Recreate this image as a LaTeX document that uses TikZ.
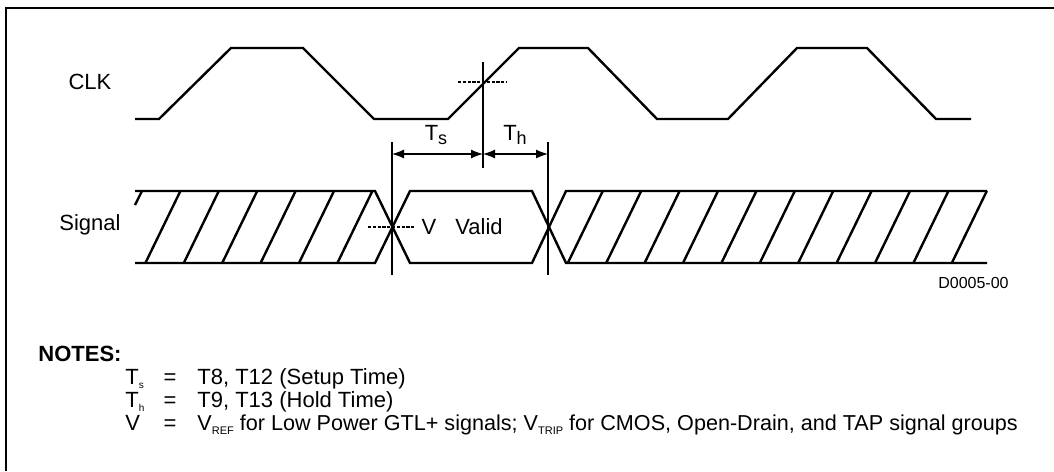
\documentclass[tikz,border=0pt]{standalone}
\usepackage{fontspec}
\setmainfont{Liberation Sans}
\usetikzlibrary{arrows.meta}
\newcommand{\lowtext}[2][5]{\raisebox{-0.4ex}{\fontsize{#1}{#1}\selectfont #2}}

\begin{document}
\begin{tikzpicture}[x=0.5pt,y=-0.5pt,>={Latex[length=6pt,width=4.5pt]},
	wave/.style={line width=1.2pt,line join=miter},
	guide/.style={line width=0.9pt},
	vdash/.style={line width=0.7pt,dash pattern=on 1.6pt off 0.8pt},
	dim/.style={<->,line width=0.6pt},
	label/.style={inner sep=0pt}]
	\tikzstyle{every node}=[font=\fontsize{11}{13}\selectfont]
	\useasboundingbox (0,0) rectangle (1054,471);
	\draw[line width=1.1pt] (6,471) -- (6,8) -- (1054,8);

	% clock
	\draw[wave] (135,119) -- (159,119) -- (231,48) -- (303,48) -- (374,119) -- (448,119)
		-- (519,48) -- (588,48) -- (657,119) -- (728,119) -- (797,48) -- (867,48)
		-- (936,119) -- (971,119);
	\node[label] (clk) at (90,82) {CLK};

	% signal
	\draw[wave] (135,191) -- (375,191) -- (410,263) -- (532,263) -- (566,191) -- (987,191);
	\draw[wave] (135,263) -- (375,263) -- (410,191) -- (532,191) -- (566,263) -- (987,263);
	\draw[wave] (142,191) -- (135,205);
	\foreach \k in {1,...,6,12,13,...,22}
		\draw[wave] ({142+38.4*\k},191) -- ({107+38.4*\k},263);
	\node[label] (sig) at (90,225) {Signal};
	\node[label] (v) at (429,227) {V};
	\node[label] (valid) at (479,227) {Valid};

	% reference levels
	\draw[vdash] (458,82) -- (507,82);
	\draw[vdash] (368,227) -- (415,227);

	% timing marks
	\coordinate (s1) at (392,142);
	\coordinate (s2) at (392,275);
	\coordinate (c1) at (483,62);
	\coordinate (c2) at (483,168);
	\coordinate (h1) at (548,142);
	\coordinate (h2) at (548,275);
	\draw[guide] (s1) -- (s2);
	\draw[guide] (c1) -- (c2);
	\draw[guide] (h1) -- (h2);
	\coordinate (ts1) at (392,154);
	\coordinate (ts2) at (483,154);
	\coordinate (th2) at (548,154);
	\draw[dim] (ts1) -- (ts2);
	\draw[dim] (ts2) -- (th2);
	\node[label] (ts) at (436,135) {T\lowtext[9]{s}};
	\node[label] (th) at (515,135) {T\lowtext[9]{h}};

	\node[label,anchor=east,font=\fontsize{8}{9}\selectfont] (fig) at (1009,283) {D0005-00};

	% notes
	\node[label,anchor=west,font=\fontsize{11}{13}\selectfont\bfseries] (notes) at (38,354) {NOTES:};
	\node[label,anchor=base west] (n1a) at (125,384) {T\lowtext{s}};
	\node[label,anchor=base] (n1b) at (170,384) {=};
	\node[label,anchor=base west] (n1c) at (197,384) {T8, T12 (Setup Time)};
	\node[label,anchor=base west] (n2a) at (125,407) {T\lowtext{h}};
	\node[label,anchor=base] (n2b) at (170,407) {=};
	\node[label,anchor=base west] (n2c) at (197,407) {T9, T13 (Hold Time)};
	\node[label,anchor=base west] (n3a) at (125,430) {V};
	\node[label,anchor=base] (n3b) at (170,430) {=};
	\node[label,anchor=base west,font=\fontsize{10.8}{13}\selectfont] (n3c) at (197,430) {V\lowtext[5.5]{REF} for Low Power GTL+ signals; V\lowtext[5.5]{TRIP} for CMOS, Open-Drain, and TAP signal groups};
\end{tikzpicture}
\end{document}
